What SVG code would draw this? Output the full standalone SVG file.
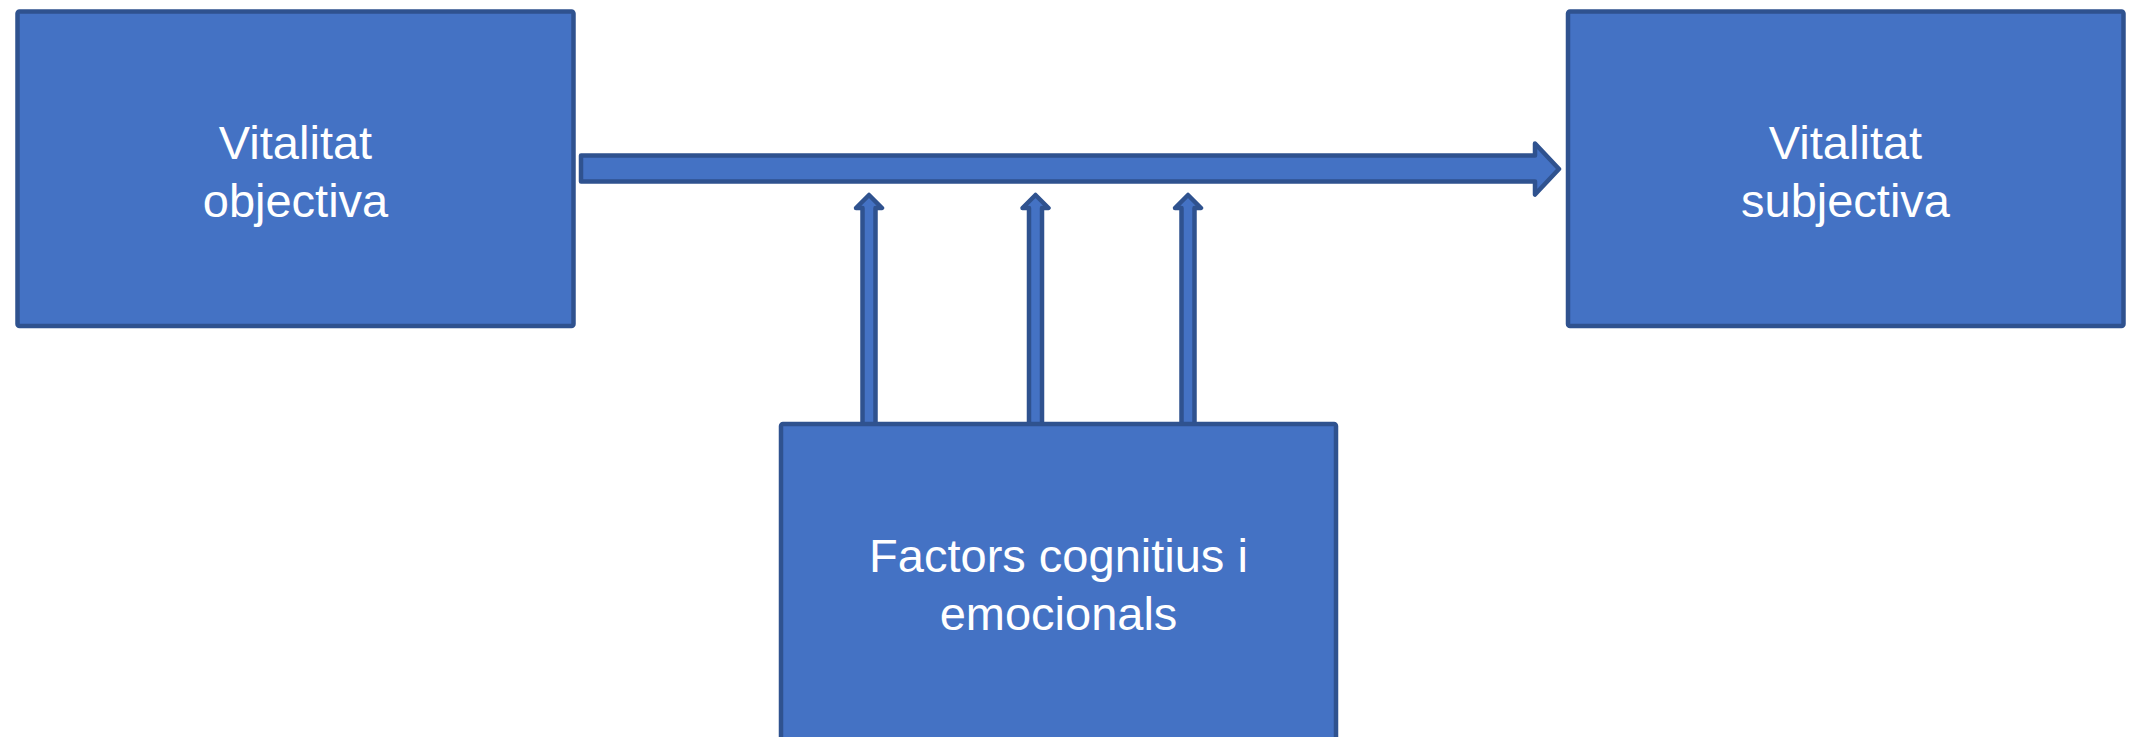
<svg xmlns="http://www.w3.org/2000/svg" width="2135" height="737" viewBox="0 0 2135 737">
<style>
.box{fill:#4472C4;stroke:#2F528F;stroke-width:4.5;stroke-linejoin:round}
.arr{fill:#4472C4;stroke:#2F528F;stroke-width:4.5;stroke-linejoin:round}
.lbl{font-family:"Liberation Sans",Arial,sans-serif;font-size:47px;fill:#FFFFFF;text-anchor:middle}
</style>
<rect width="2135" height="737" fill="#FFFFFF"/>
<g id="connectors">
<path class="arr" d="M581,155.5 H1535 V143.5 L1559,169 L1535,194.5 V181.5 H581 Z"/>
<path class="arr" d="M862.5,425 V208 H856 L869,195 L882,208 H875.5 V425 Z"/>
<path class="arr" d="M1029,425 V208 H1022.5 L1035.5,195 L1048.5,208 H1042 V425 Z"/>
<path class="arr" d="M1181.5,425 V208 H1175 L1188,195 L1201,208 H1194.5 V425 Z"/>
</g>
<g id="node-objectiva">
<rect class="box" x="17.5" y="11.5" width="556" height="314.5" rx="2"/>
<text class="lbl" x="295.5" y="159">Vitalitat</text>
<text class="lbl" x="295.5" y="217">objectiva</text>
</g>
<g id="node-subjectiva">
<rect class="box" x="1568" y="11.5" width="555.5" height="314.5" rx="2"/>
<text class="lbl" x="1845.5" y="159">Vitalitat</text>
<text class="lbl" x="1845.5" y="217">subjectiva</text>
</g>
<g id="node-factors">
<rect class="box" x="781" y="424" width="555" height="330" rx="2"/>
<text class="lbl" x="1058.5" y="572">Factors cognitius i</text>
<text class="lbl" x="1058.5" y="630">emocionals</text>
</g>
</svg>
